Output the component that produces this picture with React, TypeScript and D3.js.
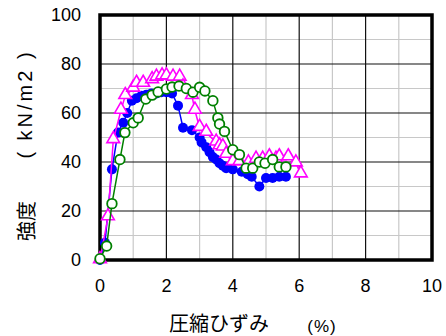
import React from 'react'
import * as d3 from 'd3'

type Pt = [number, number]

const xTicks = [0, 2, 4, 6, 8, 10]
const yTicks = [0, 20, 40, 60, 80, 100]

// blue filled circles
const seriesBlue: Pt[] = [
  [0, 0], [0.15, 7], [0.36, 37], [0.54, 52], [0.7, 56], [0.82, 60], [0.96, 65],
  [1.1, 66], [1.25, 67], [1.4, 67.5], [1.55, 68], [1.7, 68], [1.85, 68.5], [2.0, 68.5],
  [2.17, 68], [2.35, 63], [2.5, 54], [2.77, 53], [3.0, 50], [3.06, 48], [3.2, 46],
  [3.3, 44], [3.4, 42], [3.5, 41], [3.6, 39.5], [3.7, 38.5], [3.8, 37.5], [4.0, 37],
  [4.27, 36], [4.45, 35], [4.57, 34], [4.8, 30], [5.0, 33.5], [5.2, 33.5], [5.4, 34], [5.6, 34],
]

// magenta open triangles
const seriesPink: Pt[] = [
  [0, 0], [0.24, 17.5], [0.4, 49], [0.63, 61], [0.76, 67], [1.0, 70], [1.1, 72],
  [1.3, 72], [1.57, 73.5], [1.7, 74.5], [1.87, 75], [2.0, 75], [2.2, 74.5], [2.4, 74.5],
  [2.5, 70.5], [2.77, 67], [2.86, 61], [3.0, 54], [3.2, 52], [3.5, 48], [3.6, 46.5],
  [3.7, 46], [3.8, 43], [4.0, 40], [4.2, 40], [4.47, 39.5], [4.7, 41], [4.9, 41],
  [5.1, 42], [5.3, 41], [5.4, 42], [5.67, 42], [5.9, 39.5], [6.05, 35],
]

// green open circles
const seriesGreen: Pt[] = [
  [0, 0.5], [0.2, 5.7], [0.36, 23], [0.6, 41], [0.75, 52], [1.0, 56], [1.15, 58],
  [1.38, 65.7], [1.57, 67.3], [1.75, 68.6], [2.0, 69.8], [2.17, 70.6], [2.38, 71],
  [2.6, 70], [2.8, 68.5], [3.0, 70.5], [3.16, 69], [3.4, 65], [3.55, 58], [3.6, 55.5],
  [3.75, 52.5], [4.0, 45], [4.2, 43], [4.4, 37.5], [4.6, 37.5], [4.8, 40], [4.97, 39.5],
  [5.2, 41], [5.4, 38], [5.6, 38],
]

const W = 446
const H = 336
const left = 100
const right = 432
const top = 15
const bottom = 260

const font = '"Liberation Sans", Arial, sans-serif'
const jpFont = '"Noto Sans CJK JP", "Liberation Sans", sans-serif'

export default function App() {
  const x = d3.scaleLinear().domain([0, 10]).range([left, right])
  const y = d3.scaleLinear().domain([0, 100]).range([bottom, top])
  const line = d3.line<Pt>().x((d) => x(d[0])).y((d) => y(d[1]))
  const tri = d3.symbol().type(d3.symbolTriangle).size(70)

  const minorX = d3.range(1, 10, 2)
  const majorX = d3.range(2, 10, 2)
  const minorY = d3.range(10, 100, 20)
  const majorY = d3.range(20, 100, 20)

  return (
    <svg width={W} height={H} style={{ position: 'absolute', left: 0, top: 0, background: '#fff' }}>
      <rect x={0} y={0} width={W} height={H} fill="#fff" />
      {minorX.map((v) => (
        <line key={'mx' + v} x1={x(v)} x2={x(v)} y1={top} y2={bottom} stroke="#c8c8c8" strokeWidth={1.2} />
      ))}
      {minorY.map((v) => (
        <line key={'my' + v} x1={left} x2={right} y1={y(v)} y2={y(v)} stroke="#c8c8c8" strokeWidth={1.2} />
      ))}
      {majorX.map((v) => (
        <line key={'Mx' + v} x1={x(v)} x2={x(v)} y1={top} y2={bottom} stroke="#111" strokeWidth={1.2} />
      ))}
      {majorY.map((v) => (
        <line key={'My' + v} x1={left} x2={right} y1={y(v)} y2={y(v)} stroke="#111" strokeWidth={1.2} />
      ))}
      <rect x={left} y={top} width={right - left} height={bottom - top} fill="none" stroke="#000" strokeWidth={3.5} />

      {/* blue */}
      <path d={line(seriesBlue) ?? ''} fill="none" stroke="#0000ff" strokeWidth={1.5} />
      {seriesBlue.map((d, i) => (
        <circle key={'b' + i} cx={x(d[0])} cy={y(d[1])} r={5} fill="#0000ff" />
      ))}

      {/* magenta */}
      <path d={line(seriesPink) ?? ''} fill="none" stroke="#ff00ff" strokeWidth={1.5} />
      {seriesPink.map((d, i) => (
        <path
          key={'p' + i}
          d={tri() ?? ''}
          transform={`translate(${x(d[0])},${y(d[1]) - 1})`}
          fill="#fff"
          stroke="#ff00ff"
          strokeWidth={1.6}
        />
      ))}

      {/* green */}
      <path d={line(seriesGreen) ?? ''} fill="none" stroke="#008000" strokeWidth={1.5} />
      {seriesGreen.map((d, i) => (
        <circle key={'g' + i} cx={x(d[0])} cy={y(d[1])} r={4.8} fill="#fff" stroke="#008000" strokeWidth={1.8} />
      ))}

      {/* tick labels */}
      {yTicks.map((v) => (
        <text key={'yt' + v} x={81} y={y(v)} dy="0.35em" textAnchor="end" fontFamily={font} fontSize={18} fill="#000">
          {v}
        </text>
      ))}
      {xTicks.map((v) => (
        <text key={'xt' + v} x={x(v)} y={292} textAnchor="middle" fontFamily={font} fontSize={18} fill="#000">
          {v}
        </text>
      ))}

      {/* axis titles */}
      <text x={219} y={331} textAnchor="middle" fontFamily={jpFont} fontSize={20} fill="#000">
        圧縮ひずみ
      </text>
      <text x={322} y={332} textAnchor="middle" fontFamily={font} fontSize={17} letterSpacing={1} fill="#000">
        (%)
      </text>
      <text
        transform="translate(25,221) rotate(-90)"
        textAnchor="middle"
        dominantBaseline="central"
        fontFamily={jpFont}
        fontSize={20}
        fill="#000"
      >
        強度
      </text>
      <text
        transform="translate(25,104) rotate(-90)"
        textAnchor="middle"
        dominantBaseline="central"
        fontFamily={font}
        fontSize={20}
        letterSpacing={3}
        fill="#000"
      >
        ( kN/m2 )
      </text>
    </svg>
  )
}
